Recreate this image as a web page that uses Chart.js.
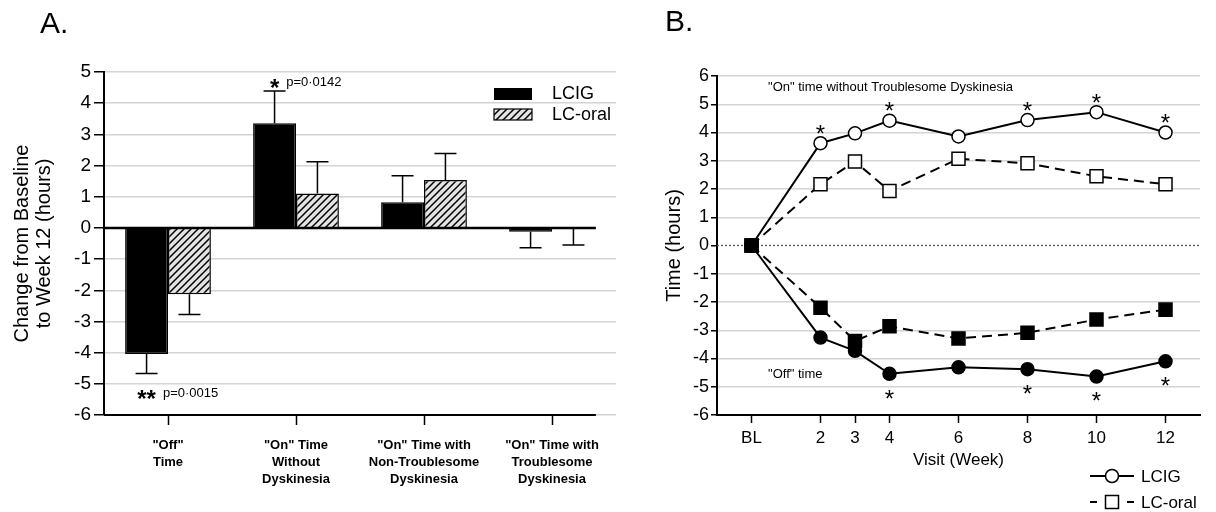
<!DOCTYPE html>
<html>
<head>
<meta charset="utf-8">
<script src="https://cdn.jsdelivr.net/npm/chart.js@4.4.1/dist/chart.umd.min.js"></script>
<style>
  html, body { margin: 0; padding: 0; background: #fff; }
  #wrap { position: relative; width: 1216px; height: 512px; overflow: hidden; }
  .panel { position: absolute; top: 0; height: 512px; }
  #boxA { left: 0; width: 620px; }
  #boxB { left: 620px; width: 596px; }
  .tag { position: absolute; font: 30px "Liberation Sans", Arial, sans-serif; line-height: 30px; color: #000; }
</style>
</head>
<body>
<div id="wrap">
  <div class="panel" id="boxA"><canvas id="chartA" width="620" height="512"></canvas></div>
  <div class="panel" id="boxB"><canvas id="chartB" width="596" height="512"></canvas></div>
  <div class="tag" style="left:40px; top:8px">A.</div>
  <div class="tag" style="left:665px; top:6px">B.</div>
</div>
<script>
// ---- panel A data (change from baseline to week 12, hours)
const categories = [
  ['"Off"', 'Time'],
  ['"On" Time', 'Without', 'Dyskinesia'],
  ['"On" Time with', 'Non-Troublesome', 'Dyskinesia'],
  ['"On" Time with', 'Troublesome', 'Dyskinesia']
];
const lcigChange = [-4.04, 3.36, 0.82, -0.12];
const lcigSem = [0.63, 1.03, 0.85, 0.52];
const oralChange = [-2.13, 1.10, 1.54, -0.03];
const oralSem = [0.65, 1.02, 0.85, 0.52];
const starsA = ['**', '*', '', ''];
const pValuesA = ['p=0·0015', 'p=0·0142', '', ''];
const yTicksA = [5, 4, 3, 2, 1, 0, -1, -2, -3, -4, -5, -6];

// ---- panel B data (time in hours by visit)
const weeks = [0, 2, 3, 4, 6, 8, 10, 12];
const weekLabels = ['BL', '2', '3', '4', '6', '8', '10', '12'];
const lcigOn = [0, 3.62, 3.97, 4.42, 3.86, 4.44, 4.72, 4.00];
const oralOn = [0, 2.17, 2.97, 1.93, 3.07, 2.91, 2.45, 2.17];
const lcigOff = [0, -3.26, -3.73, -4.54, -4.31, -4.38, -4.64, -4.10];
const oralOff = [0, -2.20, -3.38, -2.86, -3.29, -3.09, -2.62, -2.27];
const starsOn = [2, 4, 8, 10, 12];
const starsOff = [4, 8, 10, 12];
const yTicksB = [6, 5, 4, 3, 2, 1, 0, -1, -2, -3, -4, -5, -6];

const FONT = '"Liberation Sans", Arial, sans-serif';
Chart.defaults.font.family = FONT;
Chart.defaults.color = '#000';

// hatched fill for LC-oral bars
let makeHatch = () => {
  const c = document.createElement('canvas');
  c.width = 7; c.height = 7;
  const g = c.getContext('2d');
  g.fillStyle = '#e4e4e4';
  g.fillRect(0, 0, 7, 7);
  g.strokeStyle = '#000';
  g.lineWidth = 1.5;
  g.beginPath();
  g.moveTo(-1, 8); g.lineTo(8, -1);
  g.moveTo(-1, 1); g.lineTo(1, -1);
  g.moveTo(6, 8); g.lineTo(8, 6);
  g.stroke();
  return document.createElement('canvas').getContext('2d').createPattern(c, 'repeat');
};
const hatch = makeHatch();

let star = (ctx, x, cy, txt, size, bold) => {
  ctx.font = (bold ? 'bold ' : '') + size + 'px ' + FONT;
  ctx.textAlign = 'center';
  ctx.textBaseline = 'alphabetic';
  ctx.fillText(txt, x, cy + size * 0.575);
};

const panelA = {
  id: 'panelA',
  afterDatasetsDraw(chart) {
    const { ctx, chartArea, scales: { y } } = chart;
    const sems = [lcigSem, oralSem];
    ctx.save();
    ctx.strokeStyle = '#000';
    ctx.fillStyle = '#000';
    // error bars
    chart.data.datasets.forEach((ds, i) => {
      chart.getDatasetMeta(i).data.forEach((bar, j) => {
        const v = ds.data[j];
        const sign = v < 0 ? -1 : 1;
        const yEnd = y.getPixelForValue(v + sign * sems[i][j]);
        ctx.lineWidth = 1.5;
        ctx.beginPath();
        ctx.moveTo(bar.x, bar.y);
        ctx.lineTo(bar.x, yEnd);
        ctx.moveTo(bar.x - 11, yEnd);
        ctx.lineTo(bar.x + 11, yEnd);
        ctx.stroke();
      });
    });
    // zero line and x axis line, ending at the last bar
    const meta = chart.getDatasetMeta(1);
    const last = meta.data[meta.data.length - 1];
    const right = last.x + last.width / 2 + 1;
    const y0 = y.getPixelForValue(0);
    ctx.lineWidth = 2.5;
    ctx.beginPath();
    ctx.moveTo(chartArea.left, y0);
    ctx.lineTo(right, y0);
    ctx.stroke();
    ctx.lineWidth = 2;
    ctx.beginPath();
    ctx.moveTo(chartArea.left, chartArea.bottom);
    ctx.lineTo(right, chartArea.bottom);
    ctx.stroke();
    // significance marks
    const m0 = chart.getDatasetMeta(0);
    starsA.forEach((s, j) => {
      if (!s) return;
      const bar = m0.data[j];
      const v = lcigChange[j];
      const sign = v < 0 ? -1 : 1;
      const yEnd = y.getPixelForValue(v + sign * lcigSem[j]);
      const cy = sign > 0 ? yEnd - 9 : yEnd + 20;
      star(ctx, bar.x, cy, s, 24, true);
      const w = ctx.measureText(s).width;
      ctx.font = '13px ' + FONT;
      ctx.textAlign = 'left';
      ctx.textBaseline = 'middle';
      ctx.fillText(pValuesA[j], bar.x + w / 2 + 7, cy);
    });
    // legend
    ctx.fillRect(494, 88, 38, 12);
    ctx.fillStyle = hatch;
    ctx.fillRect(494, 109, 38, 11);
    ctx.lineWidth = 1.2;
    ctx.strokeRect(494, 109, 38, 11);
    ctx.fillStyle = '#000';
    ctx.font = '18px ' + FONT;
    ctx.textAlign = 'left';
    ctx.textBaseline = 'middle';
    ctx.fillText('LCIG', 552, 94);
    ctx.fillText('LC-oral', 552, 115);
    ctx.restore();
  }
};

new Chart(document.getElementById('chartA'), {
  type: 'bar',
  data: {
    labels: categories,
    datasets: [
      { label: 'LCIG', data: lcigChange, backgroundColor: '#000', borderColor: '#000', borderWidth: 1.5 },
      { label: 'LC-oral', data: oralChange, backgroundColor: hatch, borderColor: '#000', borderWidth: 1.5 }
    ]
  },
  options: {
    responsive: false,
    animation: false,
    categoryPercentage: 0.67,
    barPercentage: 1.0,
    layout: { padding: { left: 0, right: 4, top: 72, bottom: 0 } },
    plugins: { legend: { display: false }, tooltip: { enabled: false } },
    scales: {
      x: {
        type: 'category',
        offset: true,
        grid: { display: true, drawOnChartArea: false, offset: false, tickLength: 10, tickColor: '#000', tickWidth: 1.5 },
        border: { display: false },
        ticks: { color: '#000', font: { size: 13, weight: 'bold', lineHeight: 1.3 }, padding: 12, maxRotation: 0, autoSkip: false },
        afterFit: s => { s.height = 97; }
      },
      y: {
        min: -6,
        max: 5,
        afterBuildTicks: s => { s.ticks = yTicksA.map(v => ({ value: v })); },
        grid: {
          color: c => (c.tick && c.tick.value === 0) ? 'rgba(0,0,0,0)' : '#d4d4d4',
          lineWidth: 1.5, tickColor: '#000', tickLength: 10, tickWidth: 1.5
        },
        border: { color: '#000', width: 2 },
        ticks: { color: '#000', font: { size: 19 }, padding: 3 },
        title: { display: true, text: ['Change from Baseline', 'to Week 12 (hours)'], font: { size: 20, lineHeight: 1.1 }, padding: { top: 11, bottom: 0 } },
        afterFit: s => { s.width = 104; }
      }
    }
  },
  plugins: [panelA]
});

// ---- panel B
let pts = vals => weeks.map((w, i) => ({ x: w, y: vals[i] }));

const panelB = {
  id: 'panelB',
  beforeDatasetsDraw(chart) {
    const { ctx, chartArea, scales: { y } } = chart;
    const y0 = y.getPixelForValue(0);
    ctx.save();
    ctx.strokeStyle = '#555';
    ctx.lineWidth = 1.3;
    ctx.setLineDash([2, 2]);
    ctx.beginPath();
    ctx.moveTo(chartArea.left, y0);
    ctx.lineTo(chartArea.right, y0);
    ctx.stroke();
    ctx.restore();
  },
  afterDraw(chart) {
    const { ctx, scales: { x, y } } = chart;
    ctx.save();
    ctx.fillStyle = '#000';
    starsOn.forEach(w => {
      const i = weeks.indexOf(w);
      star(ctx, x.getPixelForValue(w), y.getPixelForValue(lcigOn[i]) - 15, '*', 24, false);
    });
    starsOff.forEach(w => {
      const i = weeks.indexOf(w);
      star(ctx, x.getPixelForValue(w), y.getPixelForValue(lcigOff[i]) + 19, '*', 24, false);
    });
    ctx.font = '13px ' + FONT;
    ctx.textAlign = 'left';
    ctx.textBaseline = 'middle';
    ctx.fillText('"On" time without Troublesome Dyskinesia', x.getPixelForValue(0.48), y.getPixelForValue(5.6));
    ctx.fillText('"Off" time', x.getPixelForValue(0.48), y.getPixelForValue(-4.56));
    // legend
    ctx.strokeStyle = '#000';
    ctx.lineWidth = 2;
    ctx.beginPath();
    ctx.moveTo(470, 476); ctx.lineTo(514, 476);
    ctx.stroke();
    ctx.beginPath();
    ctx.arc(492, 476, 6.5, 0, Math.PI * 2);
    ctx.fillStyle = '#fff';
    ctx.fill();
    ctx.lineWidth = 1.5;
    ctx.stroke();
    ctx.lineWidth = 2;
    ctx.beginPath();
    ctx.moveTo(470, 502); ctx.lineTo(477, 502);
    ctx.moveTo(507, 502); ctx.lineTo(514, 502);
    ctx.stroke();
    ctx.fillRect(485.5, 495.5, 13, 13);
    ctx.lineWidth = 1.5;
    ctx.strokeRect(485.5, 495.5, 13, 13);
    ctx.fillStyle = '#000';
    ctx.font = '17px ' + FONT;
    ctx.fillText('LCIG', 521, 477);
    ctx.fillText('LC-oral', 521, 503);
    ctx.restore();
  }
};

let lineSet = (label, vals, style, fill, dashed, order) => ({
  label: label,
  data: pts(vals),
  borderColor: '#000',
  borderWidth: 2,
  borderDash: dashed ? [10, 6] : [],
  pointStyle: style,
  pointRadius: style === 'rect' ? 9.2 : 6.5,
  pointBackgroundColor: fill,
  pointBorderColor: '#000',
  pointBorderWidth: 1.5,
  tension: 0,
  fill: false,
  order: order
});

new Chart(document.getElementById('chartB'), {
  type: 'line',
  data: {
    datasets: [
      lineSet('LC-oral off', oralOff, 'rect', '#000', true, 0),
      lineSet('LCIG off', lcigOff, 'circle', '#000', false, 1),
      lineSet('LC-oral on', oralOn, 'rect', '#fff', true, 2),
      lineSet('LCIG on', lcigOn, 'circle', '#fff', false, 3)
    ]
  },
  options: {
    responsive: false,
    animation: false,
    layout: { padding: { left: 0, right: 16, top: 76, bottom: 0 } },
    plugins: { legend: { display: false }, tooltip: { enabled: false } },
    scales: {
      x: {
        type: 'linear',
        min: -1,
        max: 13,
        afterBuildTicks: s => { s.ticks = weeks.map(v => ({ value: v })); },
        grid: { display: true, drawOnChartArea: false, tickLength: 8, tickColor: '#000', tickWidth: 1.5 },
        border: { color: '#000', width: 2 },
        ticks: {
          color: '#000', font: { size: 17 }, padding: 5, maxRotation: 0, autoSkip: false,
          callback: v => weekLabels[weeks.indexOf(v)]
        },
        title: { display: true, text: 'Visit (Week)', font: { size: 17, lineHeight: 1.2 }, padding: { top: 0, bottom: 41 } },
        afterFit: s => { s.height = 97; }
      },
      y: {
        min: -6,
        max: 6,
        afterBuildTicks: s => { s.ticks = yTicksB.map(v => ({ value: v })); },
        grid: {
          color: c => (c.tick && c.tick.value === 0) ? 'rgba(0,0,0,0)' : '#d4d4d4',
          lineWidth: 1.5, tickColor: '#000', tickLength: 6, tickWidth: 1.5
        },
        border: { color: '#000', width: 2 },
        ticks: { color: '#000', font: { size: 18 }, padding: 2 },
        title: { display: true, text: 'Time (hours)', font: { size: 20, lineHeight: 1.2 }, padding: { top: 42, bottom: 0 } },
        afterFit: s => { s.width = 97; }
      }
    }
  },
  plugins: [panelB]
});
</script>
</body>
</html>
